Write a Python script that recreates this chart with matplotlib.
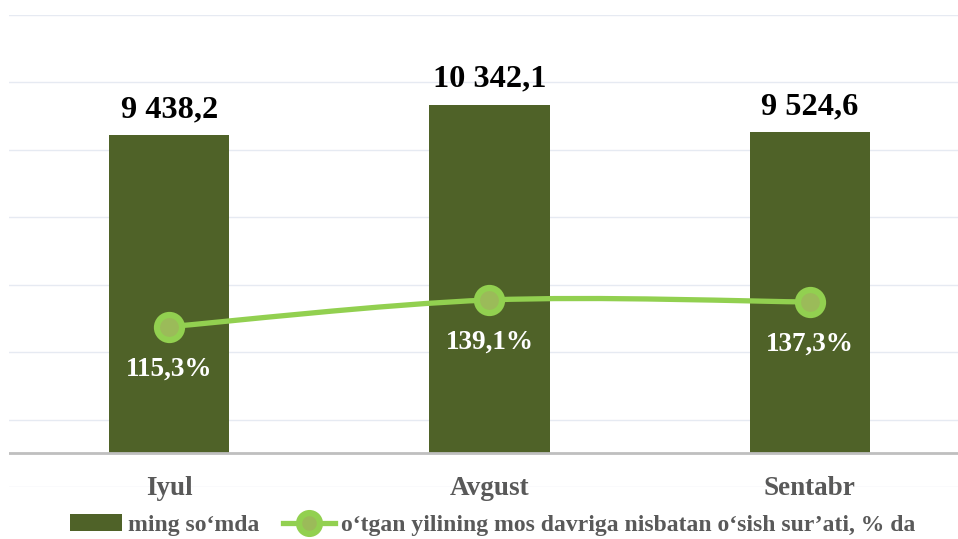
import numpy as np
import matplotlib
matplotlib.use("Agg")
import matplotlib.pyplot as plt
from matplotlib.path import Path
from matplotlib.patches import PathPatch, Patch
from matplotlib.lines import Line2D

# donnees du graphique
oylar = ["Iyul", "Avgust", "Sentabr"]
qiymat = [9438.2, 10342.1, 9524.6]
qiymat_matn = ["9 438,2", "10 342,1", "9 524,6"]
osish = [115.3, 139.1, 137.3]
osish_matn = ["115,3%", "139,1%", "137,3%"]
legenda = ["ming so\u2018mda",
           "o\u2018tgan yilining mos davriga nisbatan o\u2018sish sur\u2019ati, % da"]

bar_rang = "#4F6228"
chiziq_rang = "#92D050"
marker_ichi = "#9BBB59"
kulrang = "#595959"

plt.rcParams['font.family'] = ['Liberation Serif', 'DejaVu Serif']
plt.rcParams['font.weight'] = 'bold'

fig = plt.figure(figsize=(9.58, 5.39), dpi=100)
W, H = 958, 539
# zone du graphique en pixels : x 9..970, y 15..487
ax = fig.add_axes([9 / W, (H - 487) / H, (970 - 9) / W, (487 - 15) / H])
ax2 = ax.twinx()

x = np.arange(len(oylar))
ax.bar(x, qiymat, width=0.375, color=bar_rang, zorder=2)
ax.set_xlim(-0.5, 2.5)
ax.set_ylim(-1000, 13000)
ax.set_yticks(np.arange(-1000, 13001, 2000))
ax.grid(axis='y', color='#E6EAF2', lw=1, zorder=0)
ax.set_axisbelow(True)
ax.axhline(0, color='#BFBFBF', lw=2, zorder=3)
for s in ax.spines.values():
    s.set_visible(False)
for s in ax2.spines.values():
    s.set_visible(False)
ax.tick_params(left=False, labelleft=False, bottom=False, labelbottom=False)
ax2.tick_params(right=False, labelright=False)

# noms des mois
for i, m in enumerate(oylar):
    ax.annotate(m, (x[i], 0), xytext=(0, -30), textcoords='offset points',
                ha='center', va='baseline', fontsize=19.5, color=kulrang,
                fontweight='bold')

# etiquettes des valeurs
for i, t in enumerate(qiymat_matn):
    ax.annotate(t, (x[i], qiymat[i]), xytext=(0, 13), textcoords='offset points',
                ha='center', va='baseline', fontsize=23.3, color='black',
                fontweight='bold')

# ligne lissee (axe secondaire)
ax2.set_ylim(-27.6, 393.1)
pts = list(zip(x.astype(float), osish))
verts = [pts[0]]
codes = [Path.MOVETO]
for i in range(len(pts) - 1):
    p0 = pts[i - 1] if i > 0 else pts[i]
    p1 = pts[i]
    p2 = pts[i + 1]
    p3 = pts[i + 2] if i + 2 < len(pts) else pts[i + 1]
    c1 = (p1[0] + (p2[0] - p0[0]) / 6, p1[1] + (p2[1] - p0[1]) / 6)
    c2 = (p2[0] - (p3[0] - p1[0]) / 6, p2[1] - (p3[1] - p1[1]) / 6)
    verts += [c1, c2, p2]
    codes += [Path.CURVE4] * 3
ax2.add_patch(PathPatch(Path(verts, codes), fill=False, edgecolor=chiziq_rang,
                        lw=3.8, zorder=4, capstyle='round'))
ax2.plot(x, osish, ls='none', marker='o', ms=18, mfc=marker_ichi,
         mec=chiziq_rang, mew=4.5, zorder=5)

for i, t in enumerate(osish_matn):
    ax2.annotate(t, (x[i], osish[i]), xytext=(0, -35), textcoords='offset points',
                 ha='center', va='baseline', fontsize=19.5, color='white',
                 fontweight='bold', zorder=6)

# legende
h1 = Patch(facecolor=bar_rang, edgecolor='none')
h2 = Line2D([], [], color=chiziq_rang, lw=3.8, marker='o', ms=15,
            mfc=marker_ichi, mec=chiziq_rang, mew=4.5)
fig.legend([h1, h2], legenda, loc='center', bbox_to_anchor=(493 / W, 1 - 525 / H),
           ncol=2, frameon=False, handlelength=2.2,
           handletextpad=0.25, columnspacing=1.0, borderpad=0,
           labelcolor=kulrang, prop={'weight': 'bold', 'size': 17})

fig.savefig("out.png", dpi=100)
